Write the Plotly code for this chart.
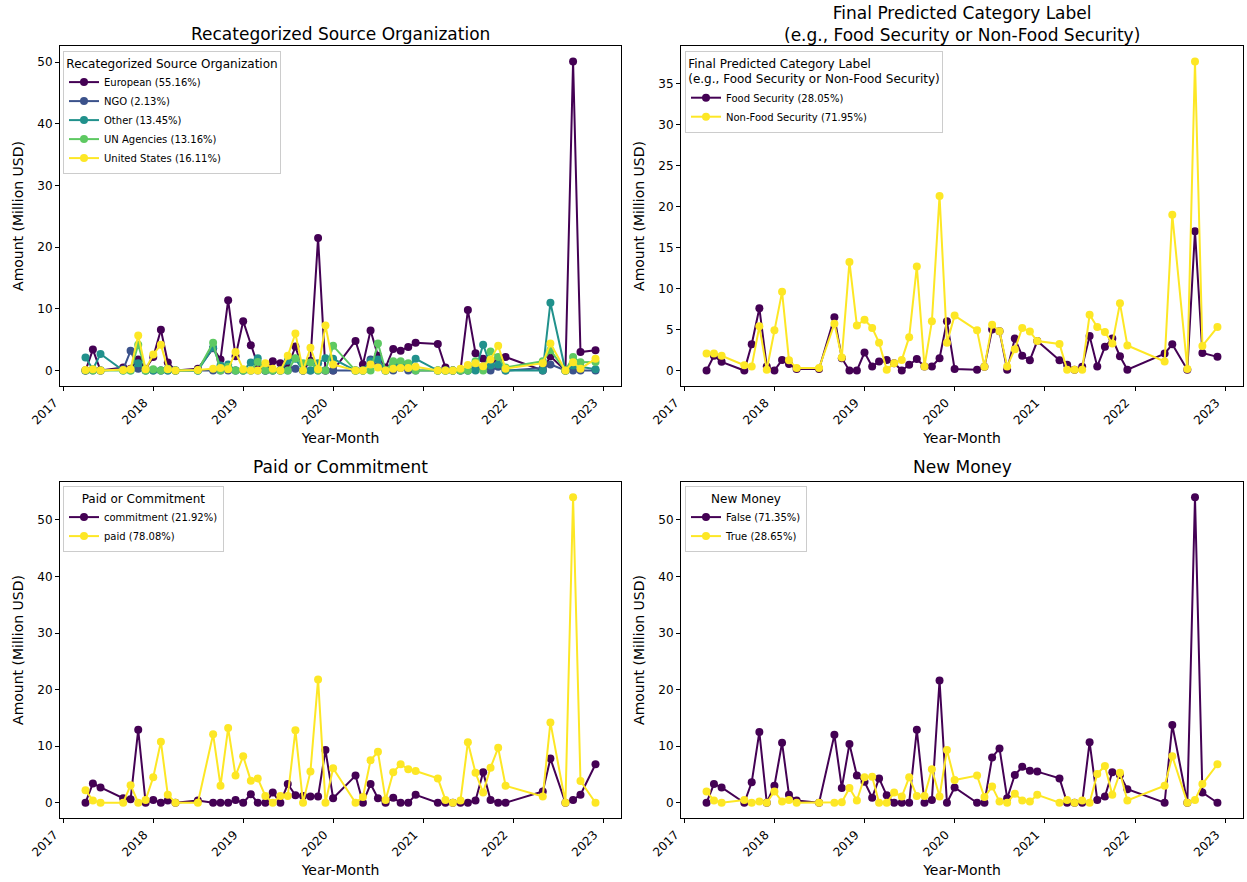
import plotly.graph_objects as go
import pandas as pd

W, H = 1247, 882

# ---------------- data ----------------
months = ["2017-04", "2017-05", "2017-06", "2017-09", "2017-10", "2017-11", "2017-12",
          "2018-01", "2018-02", "2018-03", "2018-04", "2018-07", "2018-09", "2018-10", "2018-11", "2018-12",
          "2019-01", "2019-02", "2019-03", "2019-04", "2019-05", "2019-06", "2019-07", "2019-08",
          "2019-09", "2019-10", "2019-11", "2019-12",
          "2020-01", "2020-04", "2020-05", "2020-06", "2020-07", "2020-08", "2020-09", "2020-10",
          "2020-11", "2020-12",
          "2021-03", "2021-04", "2021-05", "2021-06", "2021-07", "2021-08", "2021-09", "2021-10",
          "2021-11", "2021-12",
          "2022-05", "2022-06", "2022-08", "2022-09", "2022-10", "2022-12"]

year_ticks = ["2017", "2018", "2019", "2020", "2021", "2022", "2023"]

# Panel 1: Recategorized Source Organization
org_labels = ["European (55.16%)", "NGO (2.13%)", "Other (13.45%)", "UN Agencies (13.16%)", "United States (16.11%)"]
european = [0, 3.4, 0, 0.5, 0.3, 1.8, 0.3, 2.2, 6.6, 1.3, 0, 0.3, 3.6, 1.8, 11.4, 2.3,
            8.0, 4.1, 0.9, 0, 1.5, 1.2, 0.5, 3.9, 0, 1.6, 21.5, 0,
            0, 4.8, 1.0, 6.5, 2.4, 0.5, 3.5, 3.2, 3.8, 4.5,
            4.3, 0.5, 0, 0, 9.8, 2.8, 1.9, 1.0, 1.9, 2.2,
            0, 2.3, 0, 50.1, 3.0, 3.3]
ngo = [0, 0, 0, 0.2, 3.2, 0.3, 0, 0, 0, 0, 0, 0, 0, 0, 0, 0,
       0, 0, 0, 0, 0, 0, 0, 0.3, 0, 0, 0, 0,
       0, 0, 0, 1.8, 0.7, 0, 0, 0.4, 0, 0,
       0, 0, 0, 0.1, 0, 0.2, 0.4, 0, 0.6, 0,
       0.4, 1.0, 0, 0, 0, 0]
other = [2.1, 0.2, 2.7, 0, 0, 1.2, 0, 0, 0, 0, 0, 0, 3.7, 0.8, 1.0, 0,
         0, 1.3, 2.0, 0, 0, 0, 1.6, 1.9, 0, 0, 1.2, 2.0,
         1.9, 0, 0, 1.5, 1.8, 0, 1.0, 1.3, 0.5, 1.9,
         0, 0, 0, 0, 0, 0, 4.2, 0.8, 1.0, 0,
         0, 11.0, 0, 0.8, 0.6, 0.2]
un_agencies = [0, 0, 0, 0, 0, 4.2, 0, 0.2, 0, 0.3, 0, 0, 4.5, 0, 0.6, 0,
               0, 0, 1.4, 0, 0, 0, 0, 2.0, 1.2, 1.3, 0, 0,
               4.0, 0, 0, 0, 4.4, 0, 1.5, 1.5, 1.2, 0,
               0, 0, 0, 0, 0, 1.5, 0, 3.1, 2.2, 0.5,
               1.5, 3.3, 0, 2.2, 1.35, 1.4]
united_states = [0.1, 0.2, 0, 0.1, 0.2, 5.7, 0.2, 2.6, 4.2, 0.2, 0, 0.1, 0.3, 0.4, 0.2, 3.0,
                 0.2, 0, 0, 1.2, 0.3, 0, 2.4, 6.0, 0, 3.7, 0.2, 7.3,
                 1.0, 0, 0, 1.0, 0.5, 0, 0.3, 0.4, 0.4, 0.6,
                 0, 0, 0, 0.3, 0.9, 1.2, 0.7, 1.8, 4.0, 0.3,
                 1.2, 4.4, 0, 1.35, 0.3, 1.9]

# Panel 2: Final Predicted Category Label
cat_labels = ["Food Security (28.05%)", "Non-Food Security (71.95%)"]
food_security = [0, 1.8, 1.06, 0, 3.2, 7.6, 0.5, 0, 1.3, 0.8, 0.2, 0.2, 6.5, 1.5, 0, 0,
                 2.2, 0.5, 1.1, 1.3, 0.9, 0, 0.7, 1.4, 0.5, 0.5, 1.5, 6.0,
                 0.2, 0.1, 0.45, 5.0, 4.8, 0.1, 3.9, 1.8, 1.26, 3.6,
                 1.26, 0.7, 0.1, 0.45, 4.2, 0.5, 2.9, 3.9, 1.75, 0.1,
                 2.07, 3.2, 0.1, 17.0, 2.15, 1.67]
non_food_security = [2.07, 2.07, 1.8, 0.65, 0.5, 5.4, 0.1, 4.9, 9.6, 1.26, 0.3, 0.3, 5.7, 1.6, 13.25, 5.5,
                     6.2, 5.2, 3.4, 0.1, 0.9, 1.3, 4.07, 12.7, 0.5, 6.0, 21.3, 3.4,
                     6.7, 4.9, 0.45, 5.6, 4.8, 0.5, 2.6, 5.2, 4.75, 3.6,
                     3.25, 0.1, 0.1, 0.1, 6.8, 5.3, 4.7, 3.3, 8.2, 3.05,
                     1.1, 19.0, 0.2, 37.7, 3.0, 5.3]

# Panel 3: Paid or Commitment
pay_labels = ["commitment (21.92%)", "paid (78.08%)"]
commitment = [0, 3.4, 2.7, 0.8, 0.6, 12.9, 0, 0.5, 0, 0.4, 0, 0.4, 0, 0, 0, 0.5,
              0, 1.5, 0, 0, 1.8, 0, 3.3, 1.3, 1.2, 1.1, 1.1, 9.3,
              0.8, 4.8, 0, 3.3, 0.8, 0, 0.9, 0, 0, 1.4,
              0, 0, 0, 0, 0, 0.4, 5.4, 0.5, 0, 0,
              2.0, 7.8, 0, 0.5, 1.4, 6.8]
paid = [2.2, 0.4, 0, 0, 3.1, 0, 0.5, 4.5, 10.8, 1.4, 0, 0, 12.1, 3.0, 13.2, 4.8,
        8.2, 3.9, 4.3, 1.2, 0, 1.2, 1.2, 12.8, 0, 5.5, 21.8, 0,
        6.1, 0, 1.0, 7.5, 9.0, 0.5, 5.4, 6.8, 5.9, 5.6,
        4.3, 0.5, 0, 0.4, 10.7, 5.3, 1.8, 6.2, 9.7, 3.0,
        1.1, 14.2, 0, 54.0, 3.85, 0]

# Panel 4: New Money
new_labels = ["False (71.35%)", "True (28.65%)"]
new_false = [0, 3.3, 2.7, 0, 3.6, 12.5, 0, 3.0, 10.6, 1.4, 0.4, 0, 12.0, 2.6, 10.4, 4.8,
             3.7, 0.9, 4.3, 1.3, 0, 0, 0, 12.9, 0, 0.5, 21.6, 0,
             2.7, 0, 0, 8.0, 9.6, 0.8, 4.9, 6.35, 5.65, 5.5,
             4.3, 0, 0, 0, 10.7, 0.5, 1.1, 5.4, 4.9, 2.4,
             0, 13.75, 0, 54.0, 1.8, 0]
new_true = [2.0, 0.4, 0, 0.5, 0, 0.2, 0, 2.0, 0.2, 0.5, 0, 0, 0, 0.1, 2.6, 0.4,
            4.5, 4.6, 0, 0, 1.8, 1.1, 4.5, 1.2, 1.2, 5.9, 1.1, 9.3,
            4.0, 4.8, 1.0, 2.85, 0.2, 0, 1.6, 0.4, 0.2, 1.4,
            0, 0.5, 0, 0.4, 0, 5.1, 6.5, 1.4, 5.3, 0.4,
            3.0, 8.2, 0, 0.5, 3.3, 6.8]

# ---------------- styling ----------------
VIRIDIS5 = ["#440154", "#3b528b", "#21918c", "#5ec962", "#fde725"]
VIRIDIS2 = ["#440154", "#fde725"]
FONT = "DejaVu Sans"

panels = [
    dict(title="Recategorized Source Organization",
         legend_title="Recategorized Source Organization",
         labels=org_labels, series=[european, ngo, other, un_agencies, united_states],
         colors=VIRIDIS5, box=(60, 46, 621, 386), legpos=(63, 51), dtick=10, tshift=0),
    dict(title="Final Predicted Category Label<br>(e.g., Food Security or Non-Food Security)",
         legend_title="Final Predicted Category Label<br>(e.g., Food Security or Non-Food Security)",
         labels=cat_labels, series=[food_security, non_food_security],
         colors=VIRIDIS2, box=(681, 46, 1243, 386), legpos=(685, 51), dtick=5, tshift=-1),
    dict(title="Paid or Commitment", legend_title="Paid or Commitment",
         labels=pay_labels, series=[commitment, paid],
         colors=VIRIDIS2, box=(60, 482, 621, 818), legpos=(63, 486), dtick=10, tshift=3),
    dict(title="New Money", legend_title="New Money",
         labels=new_labels, series=[new_false, new_true],
         colors=VIRIDIS2, box=(681, 482, 1243, 818), legpos=(685, 486), dtick=10, tshift=3),
]

dates = pd.to_datetime(months, format="%Y-%m")
dspan = dates.max() - dates.min()
xlo = dates.min() - 0.05 * dspan
xhi = dates.max() + 0.05 * dspan
tickvals = [pd.Timestamp(f"{y}-01-01") for y in year_ticks]

fig = go.Figure()
layout = dict(
    width=W, height=H,
    margin=dict(l=0, r=0, t=0, b=0, autoexpand=False),
    paper_bgcolor="white", plot_bgcolor="white",
    font=dict(family=FONT, color="black", size=12),
    showlegend=True,
    annotations=[],
)

for i, p in enumerate(panels):
    n = i + 1
    sfx = "" if n == 1 else str(n)
    legname = "legend" if n == 1 else f"legend{n}"
    x0, y0, x1, y1 = p["box"]
    xd = [x0 / W, x1 / W]
    yd = [1 - y1 / H, 1 - y0 / H]

    for lab, vals, col in zip(p["labels"], p["series"], p["colors"]):
        fig.add_trace(go.Scatter(
            x=dates, y=vals, name=lab, mode="lines+markers",
            line=dict(color=col, width=2),
            marker=dict(color=col, size=8),
            xaxis=f"x{sfx}", yaxis=f"y{sfx}", legend=legname,
        ))

    ymax = max(max(s) for s in p["series"])
    ymin = min(min(s) for s in p["series"])
    yr = ymax - ymin
    layout[f"xaxis{sfx}"] = dict(
        domain=xd, anchor=f"y{sfx}", type="date", automargin=False,
        range=[xlo, xhi],
        tickvals=tickvals, ticktext=year_ticks, tickangle=-45, ticklabelshift=-9,
        ticks="outside", ticklen=4, tickcolor="black", tickfont=dict(size=12),
        showline=True, mirror=True, linecolor="black", linewidth=1,
        showgrid=False, zeroline=False,
        title=dict(text="Year-Month", font=dict(size=14), standoff=6),
    )
    layout[f"yaxis{sfx}"] = dict(
        domain=yd, anchor=f"x{sfx}", automargin=False,
        range=[ymin - 0.05 * yr, ymax + 0.05 * yr],
        dtick=p["dtick"], tick0=0,
        ticks="outside", ticklen=4, tickcolor="black", tickfont=dict(size=12),
        showline=True, mirror=True, linecolor="black", linewidth=1,
        showgrid=False, zeroline=False,
        title=dict(text="Amount (Million USD)", font=dict(size=14), standoff=10),
    )
    layout[legname] = dict(
        x=p["legpos"][0] / W, y=1 - p["legpos"][1] / H,
        xanchor="left", yanchor="top",
        bgcolor="rgba(255,255,255,0.8)", bordercolor="#cccccc", borderwidth=1,
        font=dict(size=10, family=FONT),
        title=dict(text=p["legend_title"], font=dict(size=12, family=FONT), side="top center"),
        tracegroupgap=0,
    )
    layout["annotations"].append(dict(
        text=p["title"], xref="paper", yref="paper",
        x=(xd[0] + xd[1]) / 2, y=yd[1], xanchor="center", yanchor="bottom",
        yshift=p["tshift"], showarrow=False, font=dict(size=17, family=FONT),
    ))

fig.update_layout(**layout)
fig.write_html("out.html")
